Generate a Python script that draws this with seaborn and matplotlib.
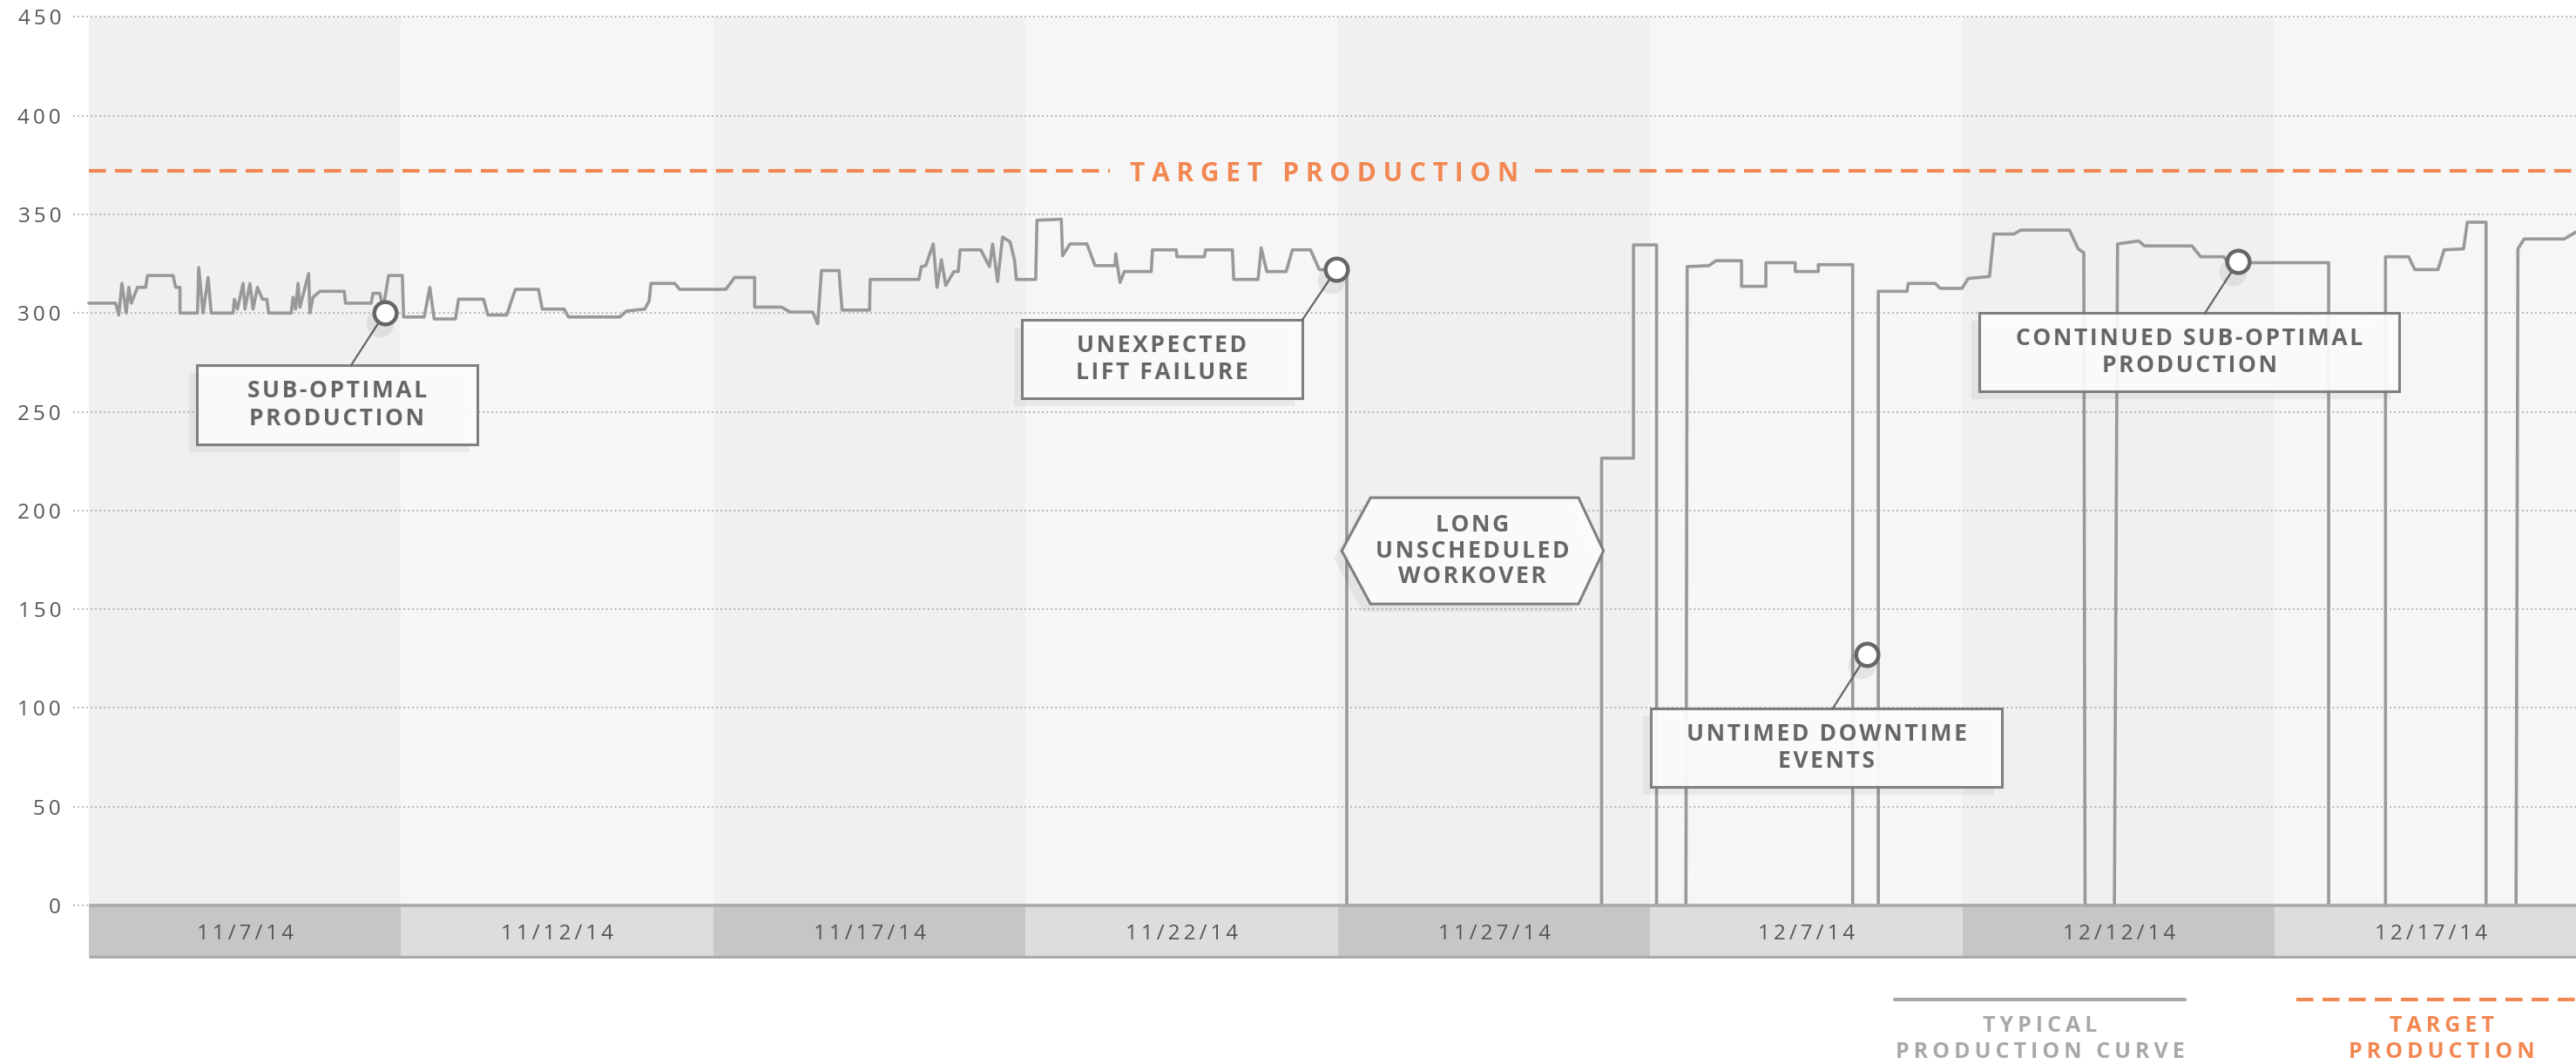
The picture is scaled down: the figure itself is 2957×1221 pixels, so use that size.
import numpy as np
import pandas as pd
import seaborn as sns
import matplotlib.pyplot as plt
from matplotlib.patches import Rectangle, Polygon
from matplotlib.lines import Line2D

# production curve, days counted from 11/7/14
days = [0.0, 0.43, 0.48, 0.53, 0.60, 0.64, 0.68, 0.78, 0.91, 0.94, 1.35, 1.39, 1.46, 1.46,
        1.74, 1.76, 1.83, 1.91, 1.96, 2.31, 2.33, 2.38, 2.47, 2.50, 2.58, 2.63, 2.70, 2.78,
        2.85, 2.88, 3.24, 3.27, 3.31, 3.35, 3.38, 3.52, 3.54, 3.59, 3.70, 4.09, 4.11, 4.52,
        4.55, 4.66, 4.71, 4.80, 5.02, 5.04, 5.37, 5.46, 5.53, 5.87, 5.92, 6.32, 6.39, 6.69,
        6.83, 7.20, 7.26, 7.61, 7.68, 8.50, 8.61, 8.90, 8.97, 9.00, 9.38, 9.46, 10.20, 10.34,
        10.66, 10.66, 11.09, 11.23, 11.59, 11.67, 11.73, 12.01, 12.06, 12.50, 12.51, 13.29,
        13.33, 13.40, 13.52, 13.58, 13.65, 13.72, 13.85, 13.92, 13.95, 14.28, 14.42, 14.47,
        14.55, 14.63, 14.75, 14.82, 14.85, 15.16, 15.18, 15.57, 15.59, 15.71, 15.98, 16.11,
        16.43, 16.44, 16.51, 16.58, 17.01, 17.03, 17.41, 17.42, 17.86, 17.88, 18.31, 18.33,
        18.72, 18.77, 18.86, 19.17, 19.27, 19.56, 19.70, 20.14, 20.14,
        24.22, 24.22, 24.73, 24.73, 25.10, 25.10, 25.57, 25.59, 25.94, 26.05, 26.46, 26.46,
        26.85, 26.85, 27.32, 27.32, 27.69, 27.69, 28.24, 28.24, 28.65, 28.65, 29.11, 29.13,
        29.56, 29.64, 29.99, 30.09, 30.43, 30.50, 30.82, 30.93, 31.71, 31.85, 31.94, 31.96,
        32.43, 32.48, 32.82, 32.91, 33.67, 33.81, 34.18, 34.25, 35.86, 35.86, 36.77, 36.77,
        37.14, 37.24, 37.61, 37.71, 38.02, 38.08, 38.38, 38.38, 38.86, 38.89, 38.99, 39.63,
        39.82]
rate = [305, 305, 299, 315, 300, 313, 305, 313, 313, 319, 319, 313, 313, 300,
        300, 323, 300, 318, 300, 300, 307, 302, 315, 302, 315, 302, 313, 307,
        307, 300, 300, 308, 302, 315, 303, 320, 300, 308, 311, 311, 305, 305,
        310, 310, 302, 319, 319, 298, 298, 313, 297, 297, 307, 307, 299, 299,
        312, 312, 302, 302, 298, 298, 301, 302, 306, 315, 315, 312, 312, 318,
        318, 303, 303, 300.5, 300.5, 294.5, 321.5, 321.5, 301.5, 301.5, 317, 317,
        323.5, 324, 335, 313, 327, 314, 321, 321, 332, 332, 323.5, 335,
        316, 338.5, 336, 327, 317, 317, 347, 347.5, 329, 335, 335, 324,
        324, 330, 315.5, 321, 321, 332, 332, 328.5, 328.5, 332, 332, 317,
        317, 333, 321, 321, 332, 332, 322, 321.5, 0,
        0, 226.5, 226.5, 334.5, 334.5, 0, 0, 323.5, 324, 326.5, 326.5, 313.5,
        313.5, 325.5, 325.5, 321, 321, 324.5, 324.5, 0, 0, 311, 311, 315,
        315, 312.5, 312.5, 317.5, 318.5, 340, 340, 342, 342, 332.5, 330.5, 0,
        0, 335, 336.5, 334, 334, 328.5, 328.5, 325.5, 325.5, 0, 0, 328.5,
        328.5, 322, 322, 332, 332.5, 346, 346, 0, 0, 332.5, 337.5, 337.5,
        341]

target_rate = 372

band_labels = ['11/7/14', '11/12/14', '11/17/14', '11/22/14',
               '11/27/14', '12/7/14', '12/12/14', '12/17/14']
band_days = 5
y_ticks = [0, 50, 100, 150, 200, 250, 300, 350, 400, 450]

event_days = [4.74, 19.97, 28.47, 34.41]
event_rates = [300, 322, 127, 326]
event_labels = ['SUB-OPTIMAL\nPRODUCTION', 'UNEXPECTED\nLIFT FAILURE',
                'UNTIMED DOWNTIME\nEVENTS', 'CONTINUED SUB-OPTIMAL\nPRODUCTION']
workover_label = 'LONG\nUNSCHEDULED\nWORKOVER'

ORANGE = '#F28752'
CURVE = '#999999'
TEXT = '#555555'
THIN = '\u2009'
HAIR = '\u200a'


def spaced(s, sep=' '):
    # fake letter spacing
    return '\n'.join(sep.join(line) for line in s.split('\n'))


sns.set_style('white')
plt.rcParams['font.family'] = ['Open Sans', 'DejaVu Sans']

fig = plt.figure(figsize=(29.57, 12.21), dpi=100)
ax = fig.add_axes([84 / 2957, 0.0989, 1 - 84 / 2957, 0.889])
x_max = 39.82
ax.set_xlim(-0.25, x_max)
ax.set_ylim(-27, 452)

# alternating day bands + date bar
plot_shades = ['#f0f0f0', '#f6f6f6']
bar_shades = ['#c6c6c6', '#dddddd']
for i, lab in enumerate(band_labels):
    x0 = i * band_days
    ax.add_patch(Rectangle((x0, 0), band_days, 450, facecolor=plot_shades[i % 2], lw=0, zorder=0.2))
    ax.add_patch(Rectangle((x0, -26), band_days, 26, facecolor=bar_shades[i % 2], lw=0, zorder=0.2))
    ax.text(x0 + band_days / 2, -14.5, spaced(lab, THIN), ha='center', va='center',
            fontsize=17.5, color=TEXT, zorder=3)
ax.plot([0, x_max], [0, 0], color='#aaaaaa', lw=2.6, zorder=3.5, solid_capstyle='butt')
ax.plot([0, x_max], [-26, -26], color='#aaaaaa', lw=2.4, zorder=3.5, solid_capstyle='butt')

ax.set_axisbelow(True)
ax.yaxis.grid(True, linestyle=(0, (1, 1.8)), color='#adadad', lw=1.3)
ax.xaxis.grid(False)
ax.set_yticks(y_ticks)
ax.set_yticklabels([spaced(str(t), THIN) for t in y_ticks], fontsize=17.5, color=TEXT)
ax.set_xticks([])
ax.tick_params(axis='y', length=0, pad=10)
for sp in ax.spines.values():
    sp.set_visible(False)

# target production line with label in the gap
for seg in ([0, 16.35], [23.15, x_max]):
    ax.plot(seg, [target_rate, target_rate], color=ORANGE, lw=3,
            linestyle=(0, (4.7, 2.5)), zorder=2)
ax.text(19.78, target_rate, spaced('TARGET PRODUCTION'), ha='center', va='center_baseline',
        fontsize=21.5, fontweight='bold', color=ORANGE, zorder=3)

# production curve
df = pd.DataFrame({'day': days, 'rate': rate})
sns.lineplot(data=df, x='day', y='rate', estimator=None, sort=False, color=CURVE,
             lw=2.6, ax=ax, zorder=3, legend=False)
ax.set_xlabel('')
ax.set_ylabel('')

# annotation boxes: centre x, centre y, width, height, leader start
boxes = [(3.97, 253.5, 4.49, 40, (4.20, 273.6)),
         (17.18, 276.7, 4.49, 40, (19.43, 296.6)),
         (27.82, 79.9, 5.62, 40, (27.92, 99.7)),
         (33.63, 280.2, 6.73, 40, (33.88, 300.0))]
sx, sy = -0.125, -4
for (cx, cy, w, h, lead), lab, ex, ey in zip(boxes, event_labels, event_days, event_rates):
    ax.add_patch(Rectangle((cx - w / 2 + sx, cy - h / 2 + sy), w, h, facecolor='black',
                           alpha=0.05, lw=0, zorder=4))
    ax.add_patch(Rectangle((cx - w / 2, cy - h / 2), w, h, facecolor='#fcfcfc', alpha=0.93,
                           edgecolor='#777777', lw=2.2, zorder=4.5))
    ax.text(cx, cy, spaced(lab, HAIR), ha='center', va='center', fontsize=19,
            fontweight='bold', color='#666666', linespacing=1.2, zorder=5)
    ax.plot([lead[0], ex], [lead[1], ey], color='#666666', lw=1.6, zorder=4.6)

hexagon = [(20.06, 179.6), (20.52, 206.5), (23.85, 206.5), (24.25, 179.6),
           (23.85, 152.7), (20.52, 152.7)]
ax.add_patch(Polygon([(x + sx, y + sy) for x, y in hexagon], facecolor='black', alpha=0.05,
                     lw=0, zorder=4))
ax.add_patch(Polygon(hexagon, facecolor='#fcfcfc', alpha=0.93, edgecolor='#777777',
                     lw=2.2, zorder=4.5))
ax.text(22.15, 179.6, spaced(workover_label, HAIR), ha='center', va='center',
        fontsize=19, fontweight='bold', color='#666666', linespacing=1.1, zorder=5)

# event markers
sns.scatterplot(x=[d - 0.08 for d in event_days], y=[r - 5 for r in event_rates], s=520,
                color='black', alpha=0.07, linewidth=0, ax=ax, zorder=5, legend=False)
sns.scatterplot(x=event_days, y=event_rates, s=340, color='white', edgecolor='#666666',
                linewidth=3.2, ax=ax, zorder=6, legend=False)

# legend under the chart (figure pixel coords)
def fx(px):
    return px / 2957


def fy(py):
    return 1 - py / 1221


fig.add_artist(Line2D([fx(2175), fx(2508)], [fy(1147), fy(1147)], color='#a8a8a8', lw=3))
fig.text(fx(2342), fy(1178), spaced('TYPICAL', THIN), ha='center', va='center', fontsize=18,
         fontweight='bold', color='#a8a8a8')
fig.text(fx(2342), fy(1207), spaced('PRODUCTION CURVE', THIN), ha='center', va='center',
         fontsize=18, fontweight='bold', color='#a8a8a8')
fig.add_artist(Line2D([fx(2636), fx(2990)], [fy(1147), fy(1147)], color=ORANGE, lw=3,
                      linestyle=(0, (4.7, 2.5))))
fig.text(fx(2803), fy(1178), spaced('TARGET', THIN), ha='center', va='center', fontsize=18,
         fontweight='bold', color=ORANGE)
fig.text(fx(2803), fy(1207), spaced('PRODUCTION', THIN), ha='center', va='center',
         fontsize=18, fontweight='bold', color=ORANGE)

fig.savefig('out.png', dpi=100, facecolor='white')
